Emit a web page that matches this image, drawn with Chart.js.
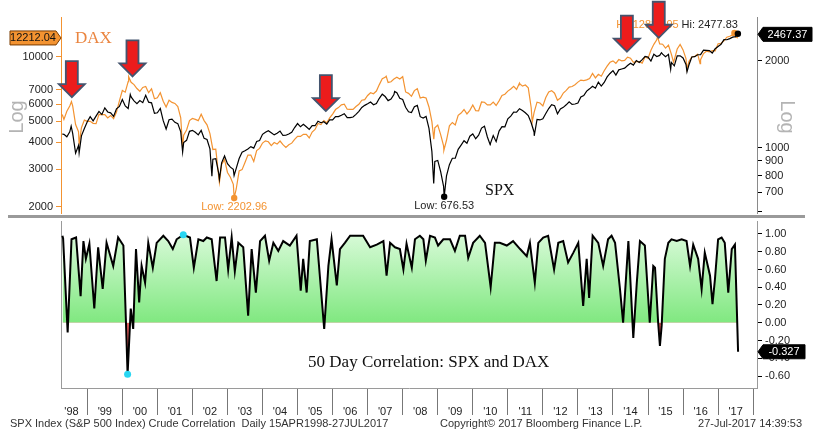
<!DOCTYPE html>
<html>
<head>
<meta charset="utf-8">
<script src="https://cdn.jsdelivr.net/npm/chart.js@4/dist/chart.umd.min.js"></script>
<style>
  html, body { margin: 0; padding: 0; background: #fff; }
  body { width: 815px; height: 442px; position: relative; overflow: hidden; font-family: "Liberation Sans", Arial, sans-serif; }
  canvas { position: absolute; left: 0; }
  #top { top: 0; }
  #bottom { top: 217px; }
  .sep { position: absolute; left: 8px; top: 215px; width: 797px; height: 3px; background: #9a9a9a; }
  .foot { position: absolute; top: 417px; font-size: 11px; color: #333; white-space: nowrap; }
</style>
</head>
<body>
<canvas id="top" width="815" height="217"></canvas>
<div class="sep"></div>
<canvas id="bottom" width="815" height="225"></canvas>
<div class="foot" style="left:10px">SPX Index (S&amp;P 500 Index) Crude Correlation&nbsp; Daily 15APR1998-27JUL2017</div>
<div class="foot" style="left:440px">Copyright&copy; 2017 Bloomberg Finance L.P.</div>
<div class="foot" style="right:13px">27-Jul-2017 14:39:53</div>
<script>
// ---- data ----
const startDate = '1998-04-15';
const startDax = 5380;
const startSpx = 1115;

// month-end closes, Apr 1998 .. Jun 2017
const daxMonthEnd = [
  5107, 5568, 5897, 5898, 4834, 4474, 4671, 5066, 5002,
  5007, 4897, 4884, 5393, 5378, 5378, 5184, 5326, 5150, 5525, 6220, 6958,
  6835, 7644, 7599, 7414, 7109, 6898, 7190, 7260, 6798, 7078, 6372, 6434,
  6795, 6208, 5829, 6265, 6123, 6058, 5862, 5188, 4309, 4560, 5045, 5160,
  5108, 5039, 5397, 5041, 4818, 4383, 3701, 3713, 2769, 3153, 3321, 2893,
  2748, 2547, 2424, 2942, 2983, 3221, 3487, 3485, 3257, 3655, 3745, 3965,
  4058, 4018, 3856, 3985, 3921, 4052, 3895, 3785, 3893, 3960, 4126, 4256,
  4254, 4350, 4349, 4185, 4460, 4587, 4886, 4829, 5044, 4929, 5193, 5408,
  5674, 5796, 5970, 6009, 5692, 5683, 5682, 5859, 6004, 6269, 6309, 6597,
  6789, 6716, 6917, 7409, 7884, 8007, 7584, 7638, 7862, 8020, 7871, 8067,
  6852, 6748, 6535, 6949, 7097, 6418, 6480, 6422, 5831, 4988, 4669, 4810,
  4338, 3844, 4085, 4770, 4941, 4809, 5332, 5465, 5675, 5415, 5625, 5957,
  5608, 5598, 6154, 6136, 5965, 5966, 6148, 5925, 6229, 6601, 6688, 6914,
  7077, 7273, 7041, 7514, 7294, 7376, 7159, 5785, 5502, 6141, 6088, 5898,
  6458, 6856, 6947, 6761, 6264, 6416, 6772, 6970, 7216, 7260, 7405, 7612,
  7776, 7742, 7795, 7914, 8348, 7959, 8276, 8104, 8594, 9033, 9406, 9552,
  9306, 9692, 9556, 9603, 9943, 9833, 9407, 9470, 9474, 9327, 9980, 9806,
  10694, 11402, 11966, 11454, 11413, 10945, 11309, 10259, 9660, 10850, 11382, 10743,
  9798, 9495, 9965, 10039, 10263, 9680, 10337, 10593, 10511, 10665, 10640, 11481,
  11535, 11834, 12313, 12438, 12615, 12325
];
const spxMonthEnd = [
  1112, 1091, 1134, 1121, 957, 1017, 1099, 1164, 1229,
  1280, 1238, 1286, 1335, 1302, 1373, 1329, 1320, 1283, 1363, 1389, 1469,
  1394, 1366, 1499, 1452, 1421, 1455, 1431, 1518, 1437, 1429, 1315, 1320,
  1366, 1240, 1160, 1249, 1256, 1224, 1211, 1134, 1041, 1060, 1139, 1148,
  1130, 1107, 1147, 1077, 1067, 990, 912, 916, 815, 886, 936, 880,
  856, 841, 848, 917, 964, 975, 990, 1008, 996, 1051, 1058, 1112,
  1131, 1145, 1126, 1107, 1121, 1141, 1102, 1104, 1115, 1130, 1174, 1212,
  1181, 1204, 1181, 1157, 1192, 1191, 1234, 1220, 1229, 1207, 1249, 1248,
  1280, 1281, 1295, 1311, 1270, 1270, 1277, 1304, 1336, 1378, 1401, 1418,
  1438, 1407, 1421, 1482, 1531, 1503, 1455, 1474, 1527, 1549, 1481, 1468,
  1379, 1331, 1323, 1386, 1400, 1280, 1267, 1283, 1166, 969, 896, 903,
  826, 735, 798, 873, 919, 919, 987, 1021, 1057, 1036, 1096, 1115,
  1074, 1104, 1169, 1187, 1089, 1031, 1102, 1049, 1141, 1183, 1181, 1258,
  1286, 1327, 1326, 1364, 1345, 1321, 1292, 1219, 1131, 1253, 1247, 1258,
  1312, 1366, 1408, 1398, 1310, 1362, 1379, 1407, 1441, 1412, 1416, 1426,
  1498, 1515, 1569, 1598, 1631, 1606, 1686, 1633, 1682, 1757, 1806, 1848,
  1783, 1859, 1872, 1884, 1924, 1960, 1931, 2003, 1972, 2018, 2068, 2059,
  1995, 2105, 2068, 2086, 2107, 2063, 2104, 1972, 1920, 2079, 2080, 2044,
  1940, 1932, 2060, 2065, 2097, 2099, 2174, 2171, 2168, 2126, 2199, 2239,
  2279, 2364, 2363, 2384, 2412, 2423
];

// intra-month turning points
const daxTurnDates = ['1998-07-20', '1998-10-08', '2000-03-07', '2001-09-21', '2002-10-09', '2003-03-12',
  '2007-07-13', '2008-11-21', '2009-03-06', '2011-05-02', '2011-09-12', '2015-04-10', '2015-09-24',
  '2016-02-11', '2016-06-27', '2017-06-20', '2017-07-27'];
const daxTurnValues = [6171, 3896, 8065, 3787, 2598, 2202.96, 8105, 4127, 3666, 7528, 4966, 12375, 9428,
  8753, 9268, 12888.95, 12212.04];
const spxTurnDates = ['1998-07-17', '1998-10-08', '2000-03-24', '2001-09-21', '2002-07-23', '2002-10-09',
  '2003-03-11', '2007-10-09', '2008-11-20', '2009-03-09', '2010-07-02', '2011-10-03', '2015-05-21',
  '2015-08-25', '2016-02-11', '2017-07-26', '2017-07-27'];
const spxTurnValues = [1187, 959, 1527, 966, 797, 777, 800, 1565, 752, 676.53, 1022, 1099, 2131,
  1868, 1829, 2477.83, 2467.37];

// 50 day correlation (decimal year, value)
const corrYears = [
  1998.29, 1998.31, 1998.44, 1998.55, 1998.68, 1998.81, 1998.89, 1998.96,
  1999.06, 1999.20, 1999.31, 1999.44, 1999.55, 1999.74, 1999.88,
  2000.03, 2000.10, 2000.15, 2000.24, 2000.31, 2000.39, 2000.48, 2000.55, 2000.65, 2000.74, 2000.87, 2000.98,
  2001.17, 2001.31, 2001.44, 2001.55, 2001.74, 2001.93,
  2002.04, 2002.17, 2002.31, 2002.41, 2002.55, 2002.69, 2002.79, 2002.93,
  2003.02, 2003.12, 2003.21, 2003.31, 2003.45, 2003.59, 2003.69, 2003.81, 2003.93,
  2004.07, 2004.19, 2004.31, 2004.45, 2004.59, 2004.78, 2004.97,
  2005.09, 2005.16, 2005.26, 2005.35, 2005.55, 2005.76, 2005.88, 2005.97,
  2006.12, 2006.21, 2006.35, 2006.50, 2006.69, 2006.87,
  2007.07, 2007.26, 2007.45, 2007.54, 2007.64, 2007.78, 2007.92,
  2008.02, 2008.11, 2008.26, 2008.35, 2008.49, 2008.59, 2008.66, 2008.78, 2008.92,
  2009.01, 2009.16, 2009.35, 2009.49, 2009.63, 2009.78, 2009.87,
  2010.01, 2010.20, 2010.35, 2010.51, 2010.63, 2010.77, 2010.97,
  2011.15, 2011.35, 2011.54, 2011.63, 2011.77, 2011.87,
  2012.01, 2012.15, 2012.32, 2012.44, 2012.58, 2012.72, 2012.87,
  2013.01, 2013.15, 2013.25, 2013.32, 2013.42, 2013.58, 2013.72, 2013.86, 2013.96,
  2014.06, 2014.20, 2014.29, 2014.44, 2014.58, 2014.68, 2014.77, 2014.91,
  2015.05, 2015.15, 2015.20, 2015.29, 2015.34, 2015.39, 2015.48, 2015.58, 2015.67, 2015.82, 2015.96,
  2016.10, 2016.20, 2016.29, 2016.43, 2016.53, 2016.62, 2016.77, 2016.84, 2016.91,
  2017.00, 2017.10, 2017.19, 2017.29, 2017.39, 2017.48, 2017.54, 2017.57
];
const corrValues = [
  0.98, 0.95, -0.11, 0.94, 0.96, 0.30, 0.92, 0.72,
  0.89, 0.16, 0.85, 0.38, 0.90, 0.64, 0.96,
  0.87, 0.05, -0.58, 0.16, -0.07, 0.83, 0.23, 0.64, 0.45, 0.90, 0.62, 0.90,
  0.98, 0.92, 0.83, 0.94, 0.99, 0.96,
  0.62, 0.94, 0.92, 0.96, 0.94, 0.47, 0.96, 0.96,
  0.60, 0.96, 0.58, 0.90, 0.85, 0.08, 0.83, 0.34, 0.92,
  0.98, 0.70, 0.90, 0.81, 0.92, 0.87, 0.98,
  0.36, 0.72, 0.34, 0.92, 0.94, -0.07, 0.64, 0.94,
  0.42, 0.83, 0.90, 0.98, 0.98, 0.98,
  0.85, 0.88, 0.92, 0.53, 0.90, 0.85, 0.83,
  0.60, 0.89, 0.62, 0.94, 0.98, 0.94, 0.70, 0.98, 0.96,
  0.87, 0.94, 0.94, 0.81, 0.98, 0.98, 0.73,
  0.90, 0.98, 0.90, 0.40, 0.90, 0.90, 0.87,
  0.92, 0.83, 0.75, 0.90, 0.45, 0.90,
  0.96, 0.98, 0.60, 0.90, 0.92, 0.68, 0.79,
  0.90, 0.19, 0.72, 0.28, 0.98, 0.90, 0.64, 0.94, 0.98,
  0.90, 0.38, 0.00, 0.92, -0.17, 0.45, 0.92, 0.87,
  0.00, 0.64, 0.62, 0.00, -0.26, -0.03, 0.72, 0.90, 0.94, 0.92, 0.94,
  0.92, 0.64, 0.88, 0.72, 0.38, 0.79, 0.53, 0.21, 0.49,
  0.94, 0.96, 0.90, 0.34, 0.83, 0.88, 0.08, -0.327
];

const daxTicks = [2000, 3000, 4000, 5000, 6000, 7000, 10000];
const spxTicks = [600, 700, 800, 900, 1000, 2000];
const corrTicks = [-0.6, -0.4, -0.2, 0, 0.2, 0.4, 0.6, 0.8, 1.0];
const yearLabels = ["'98", "'99", "'00", "'01", "'02", "'03", "'04", "'05", "'06", "'07",
  "'08", "'09", "'10", "'11", "'12", "'13", "'14", "'15", "'16", "'17"];

// red arrows: tip on the DAX line
const arrowDates = ['1998-07-24', '2000-04-16', '2005-10-23', '2014-05-26', '2015-04-23'];
const arrowDax = [6475, 8090, 5585, 10545, 12235];

// ---- helpers ----
const ORANGE = '#f39331';
const FONT = '"Liberation Sans", Arial, sans-serif';
const SERIF = '"Liberation Serif", "Times New Roman", serif';
const xMin = 1998.25, xMax = 2018.11;

function decYear(s) {
  const d = new Date(s + 'T00:00:00Z');
  const y = d.getUTCFullYear();
  const a = Date.UTC(y, 0, 1), b = Date.UTC(y + 1, 0, 1);
  return y + (d.getTime() - a) / (b - a);
}

function buildSeries(first, monthly, turnDates, turnValues) {
  const pts = [{ x: decYear(startDate), y: first }];
  monthly.forEach((v, i) => {
    const m = 3 + i;
    pts.push({ x: 1998 + Math.floor(m / 12) + ((m % 12) + 1) / 12, y: v });
  });
  turnDates.forEach((d, i) => pts.push({ x: decYear(d), y: turnValues[i] }));
  pts.sort((a, b) => a.x - b.x);
  return pts;
}

const daxPts = buildSeries(startDax, daxMonthEnd, daxTurnDates, daxTurnValues);
const spxPts = buildSeries(startSpx, spxMonthEnd, spxTurnDates, spxTurnValues);
const corrPts = corrYears.map((t, i) => ({ x: t, y: corrValues[i] }));

const extreme = (pts, cmp) => pts.reduce((best, p) => (cmp(p.y, best.y) ? p : best), pts[0]);
const daxLow = extreme(daxPts, (a, b) => a < b), daxHi = extreme(daxPts, (a, b) => a > b);
const spxLow = extreme(spxPts, (a, b) => a < b), spxHi = extreme(spxPts, (a, b) => a > b);
const corrMax = extreme(corrPts, (a, b) => a > b), corrMin = extreme(corrPts, (a, b) => a < b);
const daxLast = daxPts[daxPts.length - 1], spxLast = spxPts[spxPts.length - 1], corrLast = corrPts[corrPts.length - 1];

function valueTag(ctx, x, y, text, dir, w, fill, stroke, color) {
  const h = 14, p = 5;
  const s = dir === 'right' ? -1 : 1;
  ctx.beginPath();
  ctx.moveTo(x, y);
  ctx.lineTo(x + s * p, y - h / 2);
  ctx.lineTo(x + s * (p + w), y - h / 2);
  ctx.lineTo(x + s * (p + w), y + h / 2);
  ctx.lineTo(x + s * p, y + h / 2);
  ctx.closePath();
  ctx.fillStyle = fill;
  ctx.fill();
  ctx.lineWidth = 1;
  ctx.strokeStyle = stroke;
  ctx.stroke();
  ctx.fillStyle = color;
  ctx.font = '11px ' + FONT;
  ctx.textAlign = 'center';
  ctx.textBaseline = 'middle';
  ctx.fillText(text, x + s * (p + w / 2), y + 0.5);
}

function downArrow(ctx, x, tipY) {
  const len = 36, head = 13, hw = 13, sw = 6;
  ctx.beginPath();
  ctx.moveTo(x, tipY);
  ctx.lineTo(x - hw, tipY - head);
  ctx.lineTo(x - sw, tipY - head);
  ctx.lineTo(x - sw, tipY - len);
  ctx.lineTo(x + sw, tipY - len);
  ctx.lineTo(x + sw, tipY - head);
  ctx.lineTo(x + hw, tipY - head);
  ctx.closePath();
  ctx.fillStyle = '#ec1c1c';
  ctx.fill();
  ctx.lineWidth = 1.8;
  ctx.strokeStyle = '#44546e';
  ctx.stroke();
}

const topDecor = {
  id: 'topDecor',
  afterDatasetsDraw(chart) {
    const { ctx, chartArea: area } = chart;
    const { x, dax, spx } = chart.scales;
    ctx.save();

    // "Log" axis titles
    ctx.fillStyle = '#b4b4b4';
    ctx.font = '20px ' + FONT;
    ctx.textAlign = 'center';
    ctx.textBaseline = 'middle';
    ctx.save(); ctx.translate(17, 117); ctx.rotate(-Math.PI / 2); ctx.fillText('Log', 0, 0); ctx.restore();
    ctx.save(); ctx.translate(787, 117); ctx.rotate(Math.PI / 2); ctx.fillText('Log', 0, 0); ctx.restore();

    // series names
    ctx.textAlign = 'left';
    ctx.textBaseline = 'alphabetic';
    ctx.font = '17px ' + SERIF;
    ctx.fillStyle = '#ea8540';
    ctx.fillText('DAX', area.left + 14, area.top + 26);
    ctx.fillStyle = '#111';
    ctx.font = '16px ' + SERIF;
    ctx.fillText('SPX', x.getPixelForValue(2010.35), spx.getPixelForValue(700) + 3);

    // low / high labels
    ctx.font = '11px ' + FONT;
    ctx.textAlign = 'center';
    ctx.textBaseline = 'top';
    ctx.fillStyle = ORANGE;
    ctx.fillText('Low: ' + daxLow.y.toFixed(2), x.getPixelForValue(daxLow.x), dax.getPixelForValue(daxLow.y) + 4);
    ctx.fillStyle = '#222';
    ctx.fillText('Low: ' + spxLow.y.toFixed(2), x.getPixelForValue(spxLow.x), spx.getPixelForValue(spxLow.y) + 4);

    ctx.textAlign = 'right';
    ctx.textBaseline = 'bottom';
    const hx = x.getPixelForValue(spxHi.x), hy = spx.getPixelForValue(spxHi.y) - 3;
    const spxHiText = 'Hi: ' + spxHi.y.toFixed(2);
    ctx.fillStyle = '#222';
    ctx.fillText(spxHiText, hx, hy);
    ctx.fillStyle = ORANGE;
    ctx.fillText('Hi: ' + daxHi.y.toFixed(2), hx - ctx.measureText(spxHiText).width - 3, hy);

    // arrows
    arrowDates.forEach((d, i) => downArrow(ctx, x.getPixelForValue(decYear(d)), dax.getPixelForValue(arrowDax[i])));

    // last value tags
    valueTag(ctx, area.left, dax.getPixelForValue(daxLast.y), daxLast.y.toFixed(2), 'right', 46, ORANGE, '#7a3c00', '#111');
    valueTag(ctx, area.right + 1, spx.getPixelForValue(spxLast.y), spxLast.y.toFixed(2), 'left', 49, '#000', '#000', '#fff');
    ctx.restore();
  }
};

const bottomDecor = {
  id: 'bottomDecor',
  afterDatasetsDraw(chart) {
    const { ctx, chartArea: area } = chart;
    const { x, corr } = chart.scales;
    ctx.save();
    ctx.font = '17px ' + SERIF;
    ctx.fillStyle = '#111';
    ctx.textAlign = 'left';
    ctx.textBaseline = 'alphabetic';
    ctx.fillText('50 Day Correlation: SPX and DAX', x.getPixelForValue(2005.3), corr.getPixelForValue(-0.5));
    valueTag(ctx, area.right + 1, corr.getPixelForValue(corrLast.y), corrLast.y.toFixed(3), 'left', 42, '#000', '#000', '#fff');
    ctx.restore();
  }
};

Chart.defaults.font.family = FONT;
Chart.defaults.font.size = 11;
Chart.defaults.color = '#222';

const logTicks = (list) => (s) => { s.ticks = list.map(v => ({ value: v })); };
// fixed axis widths, no extra room for overhanging labels
const fixWidth = (w) => (s) => { s.width = w; s.paddingTop = 0; s.paddingBottom = 0; };

new Chart(document.getElementById('top'), {
  type: 'line',
  data: {
    datasets: [
      { data: [spxLow, spxHi], yAxisID: 'spx', showLine: false, pointRadius: 3.2, pointBackgroundColor: '#000', pointBorderWidth: 0 },
      { data: [daxLow, daxHi], yAxisID: 'dax', showLine: false, pointRadius: 3.2, pointBackgroundColor: ORANGE, pointBorderWidth: 0 },
      { label: 'SPX', data: spxPts, yAxisID: 'spx', borderColor: '#000', borderWidth: 1.2, pointRadius: 0, tension: 0 },
      { label: 'DAX', data: daxPts, yAxisID: 'dax', borderColor: ORANGE, borderWidth: 1.2, pointRadius: 0, tension: 0 }
    ]
  },
  options: {
    responsive: false,
    animation: false,
    layout: { padding: { top: 17, bottom: 2, left: 0, right: 0 } },
    plugins: { legend: { display: false }, tooltip: { enabled: false } },
    scales: {
      x: { type: 'linear', min: xMin, max: xMax, display: false },
      dax: {
        type: 'logarithmic', position: 'left', min: 1875, max: 15280,
        afterFit: fixWidth(61),
        afterBuildTicks: logTicks(daxTicks),
        ticks: { autoSkip: false, padding: 3, color: '#222', callback: (v) => String(v) },
        grid: { drawOnChartArea: false, tickLength: 5, tickColor: ORANGE },
        border: { color: ORANGE, width: 1 }
      },
      spx: {
        type: 'logarithmic', position: 'right', min: 594, max: 2833,
        afterFit: fixWidth(58),
        afterBuildTicks: logTicks(spxTicks),
        ticks: { autoSkip: false, padding: 3, color: '#222', callback: (v) => (v === 600 ? '' : String(v)) },
        grid: { drawOnChartArea: false, tickLength: 5, tickColor: '#000' },
        border: { color: '#8a8a8a', width: 1 }
      }
    }
  },
  plugins: [topDecor]
});

// x ticks for the lower panel: year boundaries (separators) and mid-year labels
const xTicks = [];
const xTickLabels = [];
yearLabels.forEach((lab, i) => {
  const y = 1998 + i;
  xTicks.push(y === 1998 ? 1998.55 : y + 0.5);
  xTickLabels.push(lab);
  xTicks.push(y + 1);
  xTickLabels.push('');
});

const bottomChart = new Chart(document.getElementById('bottom'), {
  type: 'line',
  data: {
    datasets: [
      { data: [corrMax, corrMin], yAxisID: 'corr', showLine: false, pointRadius: 3.5, pointBackgroundColor: '#27d6f2', pointBorderWidth: 0 },
      {
        label: '50 Day Correlation', data: corrPts, yAxisID: 'corr', borderColor: '#000', borderWidth: 2,
        pointRadius: 0, tension: 0,
        fill: { target: { value: 0 }, above: '#a8f0a8', below: '#e05a5a' }
      }
    ]
  },
  options: {
    responsive: false,
    animation: false,
    layout: { padding: { top: 3, bottom: 0, left: 0, right: 0 } },
    plugins: { legend: { display: false }, tooltip: { enabled: false } },
    scales: {
      x: {
        type: 'linear', min: xMin, max: xMax,
        afterFit: (s) => { s.height = 54; s.paddingLeft = 0; s.paddingRight = 0; },
        afterBuildTicks: (s) => { s.ticks = xTicks.map(v => ({ value: v })); },
        ticks: { autoSkip: false, maxRotation: 0, padding: -10, color: '#222', callback: (v, i) => xTickLabels[i] },
        grid: {
          drawOnChartArea: false, tickLength: 27,
          tickColor: (c) => (c.tick && Number.isInteger(c.tick.value) ? '#777' : 'rgba(0,0,0,0)')
        },
        border: { color: '#9a9a9a' }
      },
      yl: {
        type: 'linear', position: 'left', min: 0, max: 1,
        afterFit: fixWidth(61),
        ticks: { display: false },
        grid: { drawOnChartArea: false, drawTicks: false },
        border: { color: '#9a9a9a' }
      },
      corr: {
        type: 'linear', position: 'right', min: -0.735, max: 1.146,
        afterFit: fixWidth(58),
        afterBuildTicks: (s) => { s.ticks = corrTicks.map(v => ({ value: v })); },
        ticks: { autoSkip: false, padding: 3, color: '#222', callback: (v) => (Math.round(v * 100) / 100).toFixed(2) },
        grid: { drawOnChartArea: false, tickLength: 5, tickColor: '#000' },
        border: { color: '#9a9a9a' }
      }
    }
  },
  plugins: [bottomDecor]
});

// green gradient between the line and zero
const cs = bottomChart.scales.corr;
const grad = bottomChart.ctx.createLinearGradient(0, cs.getPixelForValue(1.0), 0, cs.getPixelForValue(0));
grad.addColorStop(0, '#d8fad8');
grad.addColorStop(1, '#80e880');
bottomChart.data.datasets[1].fill.above = grad;
bottomChart.update('none');
</script>
</body>
</html>
